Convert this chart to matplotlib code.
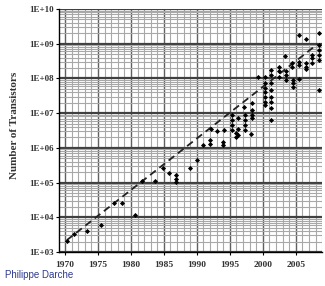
import numpy as np
import matplotlib
matplotlib.use("Agg")
from matplotlib import pyplot as plt
from matplotlib.ticker import FixedLocator, LogLocator, NullFormatter

# transistor counts
years = [1970.3, 1971.3, 1973.4, 1975.5, 1977.5, 1978.6, 1980.6, 1981.7, 1983.7,
         1984.8, 1985.8, 1986.8, 1986.8, 1986.8, 1988.9, 1990.0, 1990.9, 1992.0,
         1992.0, 1992.1, 1993.1, 1994.0, 1994.0, 1994.1, 1995.3, 1995.3, 1995.3,
         1995.3, 1996.0, 1996.0, 1996.3, 1996.3, 1996.3, 1997.2, 1997.3, 1997.3,
         1997.3, 1997.3, 1998.2, 1998.3, 1998.3, 1998.3, 1998.3, 1999.2, 2000.3,
         2000.3, 2000.3, 2000.3, 2000.3, 2000.3, 2000.3, 2001.3, 2001.3, 2001.3,
         2001.3, 2001.3, 2001.3, 2001.3, 2001.3, 2002.5, 2002.5, 2002.5, 2003.3,
         2003.5, 2003.5, 2003.5, 2004.4, 2004.4, 2004.5, 2004.5, 2004.5, 2005.5,
         2005.5, 2005.5, 2005.5, 2006.5, 2006.5, 2006.5, 2006.5, 2007.5, 2007.5,
         2007.5, 2008.5, 2008.5, 2008.5, 2008.5, 2008.5, 2008.5]
transistors = [2.1e3, 3.2e3, 4.0e3, 6.0e3, 2.6e4, 2.6e4, 1.2e4, 1.1e5, 1.1e5,
               2.6e5, 1.9e5, 1.7e5, 1.3e5, 1.07e5, 2.7e5, 4.4e5, 1.2e6, 1.7e6,
               1.3e6, 3.6e6, 3.1e6, 1.5e6, 1.2e6, 3.3e6, 8.9e6, 6.3e6, 4.6e6,
               3.3e6, 2.6e6, 2.0e6, 7.1e6, 3.6e6, 2.3e6, 1.5e7, 8.9e6, 6.3e6,
               4.6e6, 3.3e6, 2.5e6, 1.9e7, 1.2e7, 8.9e6, 7.1e6, 1.1e8, 1.1e8,
               7.2e7, 5.2e7, 4.2e7, 3.0e7, 2.1e7, 1.7e7, 1.7e8, 1.26e8, 7.2e7,
               4.7e7, 3.0e7, 2.1e7, 1.4e7, 6.3e6, 2.2e8, 1.6e8, 1.1e8, 4.3e8,
               1.6e8, 1.26e8, 9.1e7, 2.75e8, 2.2e8, 9.1e7, 7.2e7, 5.6e7, 3.0e8,
               2.45e8, 9.5e7, 1.8e9, 1.35e9, 2.75e8, 2.2e8, 1.85e8, 4.8e8, 3.8e8,
               2.75e8, 2.1e9, 9.3e8, 6.6e8, 4.8e8, 3.4e8, 4.7e7]

# dashed trend line end points
trend_years = [1970.3, 2008.3]
trend_counts = [2.2e3, 9.8e8]

year_ticks = [1970, 1975, 1980, 1985, 1990, 1995, 2000, 2005]
decades = [1e3, 1e4, 1e5, 1e6, 1e7, 1e8, 1e9, 1e10]
decade_labels = ['1E+03', '1E+04', '1E+05', '1E+06', '1E+07', '1E+08', '1E+09', '1E+10']

fig = plt.figure(figsize=(3.25, 2.86), dpi=100)
ax = fig.add_axes([0.1815, 0.119, 0.81, 0.8495])
ax.set_yscale('log')
ax.set_xlim(1969.1, 2009.0)
ax.set_ylim(1e3, 1e10)

# grid
ax.xaxis.set_minor_locator(FixedLocator(np.arange(1969, 2010, 1)))
ax.yaxis.set_minor_locator(LogLocator(base=10, subs=np.arange(2, 10)))
ax.yaxis.set_minor_formatter(NullFormatter())
ax.grid(True, which='minor', axis='both', color='#a8a8a8', lw=0.8)
ax.grid(True, which='major', axis='x', color='#606060', lw=1.0)
ax.grid(True, which='major', axis='y', color='#404040', lw=1.6)
ax.set_axisbelow(True)

ax.plot(trend_years, trend_counts, color='#222222', ls=(0, (4, 2.5)), lw=1.3)
ax.plot(years, transistors, 'D', color='black', ms=2.6, mew=0)

ax.set_xticks(year_ticks)
ax.set_xticklabels([str(y) for y in year_ticks], family='Liberation Serif',
                   fontsize=6.8, fontweight='bold', color='#333333')
ax.set_yticks(decades)
ax.set_yticklabels(decade_labels, family='Liberation Serif',
                   fontsize=6.5, fontweight='bold', color='#333333')
ax.tick_params(which='minor', length=0)
ax.tick_params(axis='y', which='major', length=2.5, width=0.8, pad=1.5)
ax.tick_params(axis='x', which='major', length=2.5, width=0.8, pad=4)

for s in ['top', 'right']:
    ax.spines[s].set_visible(False)
ax.spines['left'].set_linewidth(1.0)
ax.spines['bottom'].set_linewidth(1.0)

fig.text(0.045, 0.56, 'Number of Transistors', rotation=90, ha='center', va='center',
         family='Liberation Serif', fontsize=8, fontweight='bold', color='#333333')
fig.text(0.015, 0.028, 'Philippe Darche', family='Liberation Sans', fontsize=7,
         color='#2e3b8c')

fig.savefig('out.png', dpi=100)
